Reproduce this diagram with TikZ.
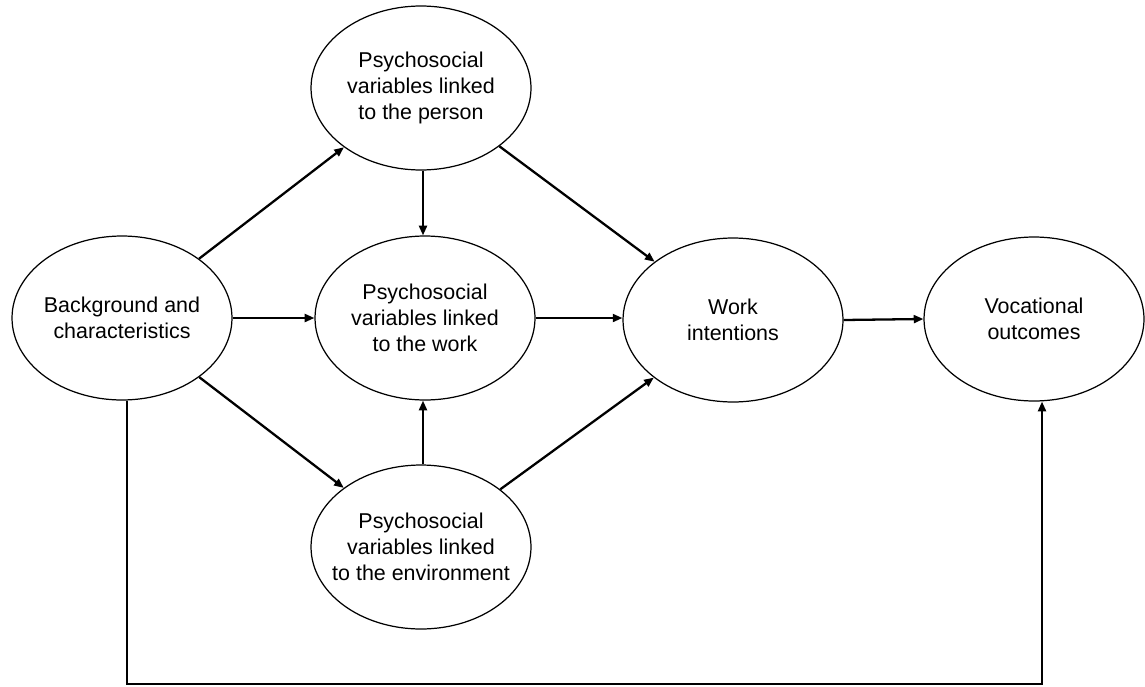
\documentclass[tikz,border=0pt]{standalone}
\usepackage{fontspec}
\setmainfont{Liberation Sans}
\usetikzlibrary{shapes.geometric,arrows.meta}
\begin{document}
\begin{tikzpicture}[x=0.02cm,y=-0.02cm,
  oval/.style={ellipse,draw=black,line width=0.7pt,minimum width=4.4cm,minimum height=3.28cm,inner xsep=-12pt,inner ysep=0pt,align=center,font=\fontsize{12.2}{14.8}\selectfont},
  arr/.style={line width=1.3pt,-{Triangle[length=5.5pt,width=4.5pt]}}]
\useasboundingbox (0,0) rectangle (1145,686);
\node[oval] (bg) at (122,318) {Background and\\characteristics};
\node[oval] (person) at (421,88) {Psychosocial\\variables linked\\to the person};
\node[oval] (work) at (425,318) {Psychosocial\\variables linked\\to the work};
\node[oval] (env) at (421,547) {Psychosocial\\variables linked\\to the environment};
\node[oval] (wi) at (733,320) {Work\\intentions};
\node[oval] (voc) at (1034,319) {Vocational\\outcomes};
\coordinate (fbL) at (127,684);
\coordinate (fbR) at (1042,684);
\draw[arr] (bg) -- (person);
\draw[arr] (bg.east) -- (work.west);
\draw[arr] (bg) -- (env);
\draw[arr] (person.south -| 423,0) -- (work.north -| 423,0);
\draw[arr] (env.north -| 423,0) -- (work.south -| 423,0);
\draw[arr] (person) -- (wi);
\draw[arr] (work.east) -- (work.east -| wi.west);
\draw[arr] (env) -- (wi);
\draw[arr] (wi.east) -- (voc.west);
\draw[arr] (bg.south -| fbL) |- (fbR) -- (voc.south -| fbR);
\end{tikzpicture}
\end{document}
